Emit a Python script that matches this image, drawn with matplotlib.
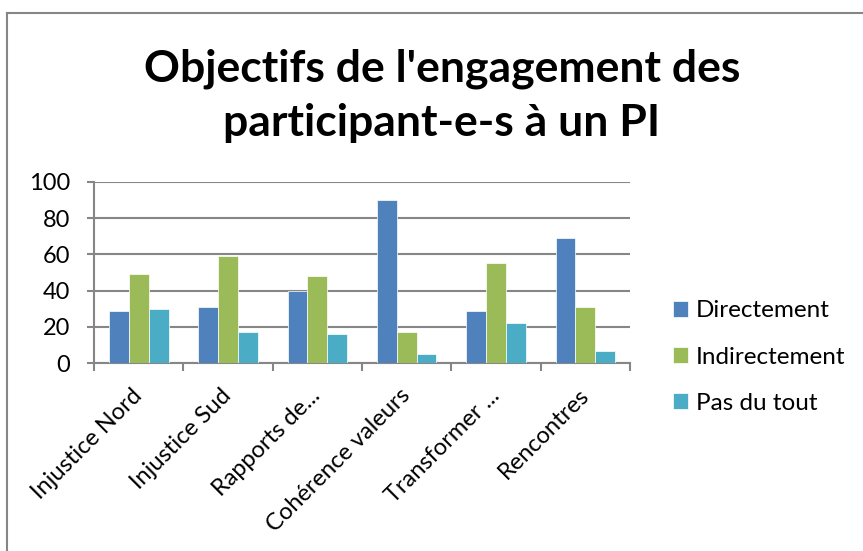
import numpy as np
import matplotlib
matplotlib.use("Agg")
import matplotlib.pyplot as plt
from matplotlib.lines import Line2D

plt.rcParams['font.family'] = ['Lato', 'DejaVu Sans']

# data
categories = ["Injustice Nord", "Injustice Sud", "Rapports de...", "Cohérence valeurs",
              "Transformer ...", "Rencontres"]
directement = [29, 31, 40, 90, 29, 69]
indirectement = [49, 59, 48, 17, 55, 31]
pas_du_tout = [30, 17, 16, 5, 22, 6.5]
series_names = ["Directement", "Indirectement", "Pas du tout"]
colors = ["#4F81BD", "#9BBB59", "#4BACC6"]
grey = "#868686"

fig = plt.figure(figsize=(8.63, 5.51), dpi=100)
ax = fig.add_axes([0.109, 0.341, 0.621, 0.329])

x = np.arange(len(categories))
w = 1 / 4.5
for i, (vals, name, c) in enumerate(zip([directement, indirectement, pas_du_tout], series_names, colors)):
    ax.bar(x + (i - 1) * w, vals, width=w, color=c, edgecolor="white", linewidth=0.5,
           label=name, zorder=3)

ax.set_xlim(-0.5, len(categories) - 0.5)
ax.set_ylim(0, 100)
ax.set_yticks(range(0, 101, 20))
ax.yaxis.grid(True, color=grey, linewidth=1.5, zorder=0)
ax.set_xticks(x)
ax.set_xticklabels(categories, rotation=45, ha="right", va="center",
                   rotation_mode="anchor", fontsize=17)
ax.set_xticks(np.arange(-0.5, len(categories), 1), minor=True)
ax.tick_params(axis="x", which="major", length=0, pad=21)
ax.tick_params(axis="x", which="minor", length=6, width=1.5, color=grey)
ax.tick_params(axis="y", length=5, width=1.5, color=grey, labelsize=17, pad=12)
for s in ["top", "right"]:
    ax.spines[s].set_visible(False)
for s in ["left", "bottom"]:
    ax.spines[s].set_color(grey)
    ax.spines[s].set_linewidth(1.5)

fig.text(0.512, 0.826, "Objectifs de l'engagement des\nparticipant-e-s à un PI",
         ha="center", va="center", fontsize=32, fontweight="bold", linespacing=1.42)

fig.legend(loc="center left", bbox_to_anchor=(0.780, 0.352), frameon=False,
           fontsize=17.5, handlelength=0.62, handleheight=0.62, labelspacing=1.04,
           handletextpad=0.3, borderpad=0, borderaxespad=0)

# chart border (only left and top edges visible in the crop)
fig.add_artist(Line2D([0.008, 0.008], [0.0, 0.976], transform=fig.transFigure,
                      color=grey, linewidth=1.5))
fig.add_artist(Line2D([0.008, 1.0], [0.976, 0.976], transform=fig.transFigure,
                      color=grey, linewidth=1.5))

fig.savefig("out.png", dpi=100)
